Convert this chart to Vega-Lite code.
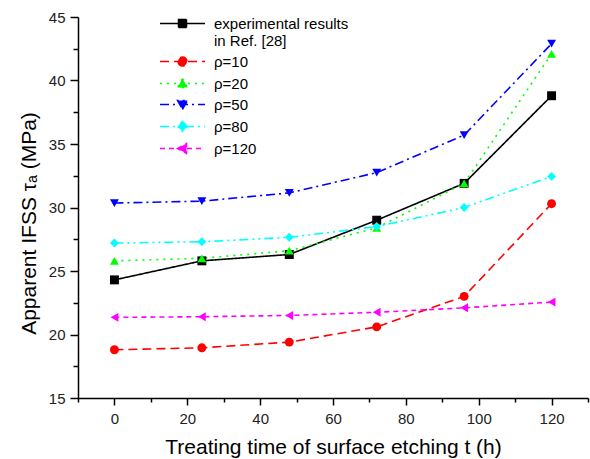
{
  "$schema": "https://vega.github.io/schema/vega-lite/v6.json",
  "width": 510,
  "height": 381,
  "autosize": {"type": "none"},
  "padding": {"left": 78, "top": 17, "right": 2, "bottom": 61},
  "config": {
    "view": {"stroke": null},
    "font": "Liberation Sans",
    "axis": {
      "grid": false,
      "domainColor": "#000000",
      "domainWidth": 1.5,
      "tickColor": "#000000",
      "tickWidth": 1.5,
      "labelColor": "#222222",
      "labelFontSize": 15,
      "labelFont": "Liberation Sans",
      "titleFont": "Liberation Sans",
      "titleFontSize": 21,
      "titleFontWeight": "normal",
      "titleColor": "#000000"
    }
  },
  "data": {
    "values": [
      {"t": 0, "v": 24.3, "s": "experimental results in Ref. [28]"},
      {"t": 24, "v": 25.8, "s": "experimental results in Ref. [28]"},
      {"t": 48, "v": 26.3, "s": "experimental results in Ref. [28]"},
      {"t": 72, "v": 29.0, "s": "experimental results in Ref. [28]"},
      {"t": 96, "v": 31.9, "s": "experimental results in Ref. [28]"},
      {"t": 120, "v": 38.8, "s": "experimental results in Ref. [28]"},
      {"t": 0, "v": 18.8, "s": "ρ=10"},
      {"t": 24, "v": 18.95, "s": "ρ=10"},
      {"t": 48, "v": 19.4, "s": "ρ=10"},
      {"t": 72, "v": 20.6, "s": "ρ=10"},
      {"t": 96, "v": 23.0, "s": "ρ=10"},
      {"t": 120, "v": 30.3, "s": "ρ=10"},
      {"t": 0, "v": 25.8, "s": "ρ=20"},
      {"t": 24, "v": 26.0, "s": "ρ=20"},
      {"t": 48, "v": 26.6, "s": "ρ=20"},
      {"t": 72, "v": 28.4, "s": "ρ=20"},
      {"t": 96, "v": 31.9, "s": "ρ=20"},
      {"t": 120, "v": 42.1, "s": "ρ=20"},
      {"t": 0, "v": 30.35, "s": "ρ=50"},
      {"t": 24, "v": 30.5, "s": "ρ=50"},
      {"t": 48, "v": 31.15, "s": "ρ=50"},
      {"t": 72, "v": 32.75, "s": "ρ=50"},
      {"t": 96, "v": 35.7, "s": "ρ=50"},
      {"t": 120, "v": 42.9, "s": "ρ=50"},
      {"t": 0, "v": 27.2, "s": "ρ=80"},
      {"t": 24, "v": 27.3, "s": "ρ=80"},
      {"t": 48, "v": 27.65, "s": "ρ=80"},
      {"t": 72, "v": 28.5, "s": "ρ=80"},
      {"t": 96, "v": 30.0, "s": "ρ=80"},
      {"t": 120, "v": 32.45, "s": "ρ=80"},
      {"t": 0, "v": 21.35, "s": "ρ=120"},
      {"t": 24, "v": 21.4, "s": "ρ=120"},
      {"t": 48, "v": 21.5, "s": "ρ=120"},
      {"t": 72, "v": 21.75, "s": "ρ=120"},
      {"t": 96, "v": 22.1, "s": "ρ=120"},
      {"t": 120, "v": 22.55, "s": "ρ=120"}
    ]
  },
  "encoding": {
    "x": {
      "field": "t",
      "type": "quantitative",
      "scale": {"domain": [-10, 130], "nice": false, "zero": false},
      "axis": {
        "title": "Treating time of surface etching t (h)",
        "values": [-10, 0, 10, 20, 30, 40, 50, 60, 70, 80, 90, 100, 110, 120, 130],
        "labelExpr": "(datum.value % 20 === 0 && datum.value >= 0 && datum.value <= 120) ? datum.label : ''",
        "tickSize": {"condition": {"test": "datum.value % 20 === 0", "value": 7}, "value": 4},
        "labelPadding": 6,
        "titlePadding": 10
      }
    },
    "y": {
      "field": "v",
      "type": "quantitative",
      "scale": {"domain": [15, 45], "nice": false, "zero": false},
      "axis": {
        "title": "Apparent IFSS τₐ (MPa)",
        "values": [15, 17.5, 20, 22.5, 25, 27.5, 30, 32.5, 35, 37.5, 40, 42.5, 45],
        "labelExpr": "datum.value % 5 === 0 ? datum.label : ''",
        "tickSize": {"condition": {"test": "datum.value % 5 === 0", "value": 8}, "value": 5},
        "labelPadding": 5,
        "titlePadding": 9,
        "titleY": 206
      }
    },
    "color": {
      "field": "s",
      "type": "nominal",
      "sort": null,
      "scale": {
        "domain": ["experimental results in Ref. [28]", "ρ=10", "ρ=20", "ρ=50", "ρ=80", "ρ=120"],
        "range": ["#000000", "#ff0000", "#00ff00", "#0000ff", "#00ffff", "#ff00ff"]
      },
      "legend": {
        "orient": "none",
        "legendX": 97,
        "legendY": -1,
        "title": null,
        "padding": 0,
        "symbolSize": 100,
        "symbolStrokeWidth": 1.5,
        "symbolType": {"expr": "datum.value == 'ρ=10' ? 'M-4.5,0H4.5M-0.9,0A0.9,0.9,0,1,0,0.9,0A0.9,0.9,0,1,0,-0.9,0Z' : datum.value == 'ρ=20' ? 'M-4.5,0H4.5M0,-1L1,0.8L-1,0.8Z' : datum.value == 'ρ=50' ? 'M-4.5,0H4.5M0,1L1,-0.8L-1,-0.8Z' : datum.value == 'ρ=80' ? 'M-4.5,0H4.5M0,-1L1,0L0,1L-1,0Z' : datum.value == 'ρ=120' ? 'M-4.5,0H4.5M-1,0L0.8,-1L0.8,1Z' : 'M-4.5,0H4.5M-0.8,-0.8H0.8V0.8H-0.8Z'"},
        "symbolFillColor": {"expr": "scale('color', datum.value)"},
        "labelFontSize": 15,
        "labelColor": "#000000",
        "labelFont": "Liberation Sans",
        "labelOffset": 24,
        "rowPadding": 5,
        "labelExpr": "datum.label == 'experimental results in Ref. [28]' ? ['experimental results', 'in Ref. [28]'] : datum.label",
        "encoding": {
          "labels": {
            "update": {
              "lineHeight": {"value": 19},
              "dy": {"signal": "datum.index === 0 ? -8 : 0"}
            }
          },
          "symbols": {
            "update": {
              "y": {"signal": "datum.index === 0 ? 16.5 : 7.5"},
              "strokeDash": {"signal": "datum.value == 'ρ=10' ? [9,5] : datum.value == 'ρ=20' ? [2,5] : datum.value == 'ρ=50' ? [9,4,2,4] : datum.value == 'ρ=80' ? [9,4,2,4,2,4] : datum.value == 'ρ=120' ? [5,4] : [1,0]"},
              "fill": {"signal": "scale('color', datum.value)"},
              "stroke": {"signal": "scale('color', datum.value)"},
              "strokeWidth": {"value": 1.5},
              "opacity": {"value": 1}
            }
          }
        }
      }
    }
  },
  "layer": [
    {
      "mark": {"type": "line", "strokeWidth": 1.6},
      "encoding": {
        "strokeDash": {
          "field": "s",
          "type": "nominal",
          "scale": {
            "domain": ["experimental results in Ref. [28]", "ρ=10", "ρ=20", "ρ=50", "ρ=80", "ρ=120"],
            "range": [[1, 0], [9, 5], [2, 5], [9, 4, 2, 4], [9, 4, 2, 4, 2, 4], [5, 4]]
          },
          "legend": null
        }
      }
    },
    {
      "mark": {"type": "point", "filled": true, "opacity": 1, "size": 80},
      "encoding": {
        "shape": {
          "condition": [
            {"test": "datum.s == 'ρ=10'", "value": "circle"},
            {"test": "datum.s == 'ρ=20'", "value": "triangle-up"},
            {"test": "datum.s == 'ρ=50'", "value": "triangle-down"},
            {"test": "datum.s == 'ρ=80'", "value": "diamond"},
            {"test": "datum.s == 'ρ=120'", "value": "triangle-left"}
          ],
          "value": "square"
        }
      }
    }
  ]
}
